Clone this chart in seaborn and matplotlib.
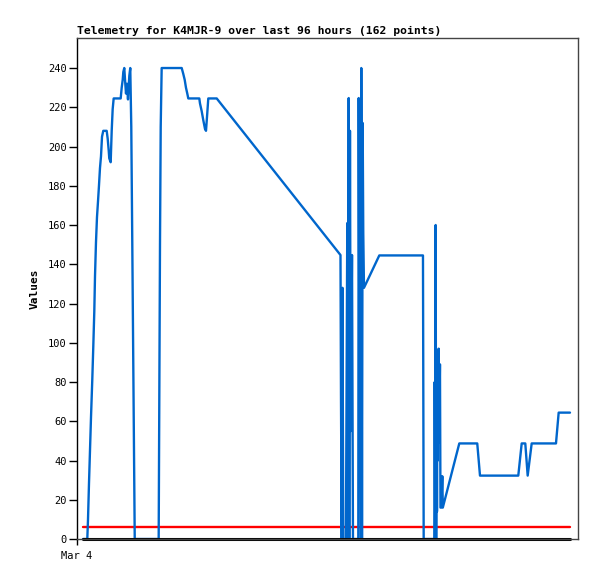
import matplotlib
matplotlib.use("Agg")
import matplotlib.pyplot as plt
import numpy as np
import pandas as pd
import seaborn as sns

# ============================================================
# DATOS (horas desde el inicio)
# ============================================================

blue_hours = [
    0, 0.85, 0.99, 1.18, 1.38, 1.58, 1.83, 2.03, 2.23, 2.37, 2.56, 2.76,
    2.96, 3.15, 3.35, 3.55, 3.75, 4.00, 4.67, 4.87, 5.07, 5.18, 5.46, 5.66,
    5.85, 6.05, 7.43, 7.63, 7.83, 7.95, 8.14, 8.34, 8.48, 8.67, 8.87, 9.13,
    9.32, 9.52, 9.72, 10.2, 14.92, 15.18, 15.32, 15.51, 19.46, 19.77, 20.05,
    20.30, 20.56, 20.76, 22.93, 23.06, 23.40, 23.71, 24.05, 24.25, 24.50,
    24.70, 26.36, 50.76, 50.86, 51.00, 51.15, 51.31, 51.84, 51.90, 52.10,
    52.24, 52.38, 52.49, 52.63, 52.77, 53.03, 53.22, 54.27, 54.35, 54.54,
    54.66, 54.80, 54.86, 55.00, 55.13, 55.25, 55.39, 58.41, 67.02, 67.16,
    69.25, 69.33, 69.45, 69.52, 69.62, 69.72, 69.78, 69.84, 69.92, 70.11,
    70.18, 70.37, 70.47, 70.63, 70.83, 70.93, 74.18, 77.72, 78.26, 85.81,
    86.48, 87.19, 87.66, 88.45, 93.24, 93.77, 96.0,
]
blue_values = [
    0, 0, 10, 28, 45, 62, 81, 98, 116, 134, 151, 164,
    172, 180, 189, 195, 205, 208, 208, 204, 198, 194, 192, 208,
    219, 224.5, 224.5, 230, 234, 238, 240, 232, 227, 232, 224, 236,
    240, 210, 150, 0, 0, 150, 210, 240, 240, 237, 234,
    230, 227, 224.5, 224.5, 222, 218, 213.5, 209, 208, 217,
    224.5, 224.5, 144.7, 72, 0, 128, 0, 0, 40, 161,
    0, 224.7, 0, 208, 55, 144.7, 0, 0, 224.7, 37.7,
    187, 0, 240, 0, 212, 156, 128, 144.5, 144.5, 0,
    0, 80, 0, 160, 0, 67, 14, 66, 40, 97,
    49, 89, 16, 16, 32, 16, 48.7, 48.7, 32.3, 32.3,
    48.7, 48.7, 32.3, 48.7, 48.7, 64.4, 64.4,
]

red_hours = [0, 96.0]
red_values = [6, 6]
black_hours = [0, 96.0]
black_values = [0, 0]

y_ticks = list(range(0, 241, 20))
x_tick_pos = [-1.18]
x_tick_labels = ["Mar 4"]
titulo = "Telemetry for K4MJR-9 over last 96 hours (162 points)"

# ============================================================
# GRÁFICO
# ============================================================

sns.set_style("white")
plt.rcParams["font.family"] = ["DejaVu Sans Mono", "DejaVu Sans"]
plt.rcParams["text.color"] = "black"
plt.rcParams["xtick.color"] = "black"
plt.rcParams["ytick.color"] = "black"
plt.rcParams["axes.labelcolor"] = "black"

fig = plt.figure(figsize=(5.97, 5.79), dpi=100)
ax = fig.add_axes([77 / 597, 1 - 539 / 579, (578 - 77) / 597, (539 - 38) / 579])

df_red = pd.DataFrame({"h": red_hours, "v": red_values})
df_black = pd.DataFrame({"h": black_hours, "v": black_values})
df_blue = pd.DataFrame({"h": blue_hours, "v": blue_values})

sns.lineplot(data=df_red, x="h", y="v", color="#ff0000", lw=1.7,
             estimator=None, sort=False, ax=ax)
sns.lineplot(data=df_blue, x="h", y="v", color="#0066cc", lw=1.7,
             estimator=None, sort=False, ax=ax)
sns.lineplot(data=df_black, x="h", y="v", color="black", lw=2.2,
             estimator=None, sort=False, ax=ax)
for ln in ax.lines:
    ln.set_clip_on(False)

ax.set_xlim(-1.18, 97.58)
ax.set_ylim(0, 255.3)
ax.set_yticks(y_ticks)
ax.set_yticklabels([str(t) for t in y_ticks], fontsize=7.5, color="black")
ax.set_xticks(x_tick_pos)
ax.set_xticklabels(x_tick_labels, fontsize=7.5, color="black")
ax.tick_params(axis="y", direction="out", length=5.5, width=1, color="black", pad=2, left=True)
ax.tick_params(axis="x", direction="out", length=4.5, width=1, color="black", pad=4, bottom=True)

ax.set_xlabel("")
ax.set_ylabel("Values", fontsize=8, fontweight="bold", labelpad=6, color="black")
ax.set_title(titulo, loc="left", fontsize=8.2, fontweight="bold", pad=3, color="black")

ax.spines["left"].set_color("black")
ax.spines["left"].set_linewidth(1)
for s in ["top", "right", "bottom"]:
    ax.spines[s].set_color("#444444")
    ax.spines[s].set_linewidth(1)
ax.grid(False)

fig.savefig("out.png", dpi=100)
